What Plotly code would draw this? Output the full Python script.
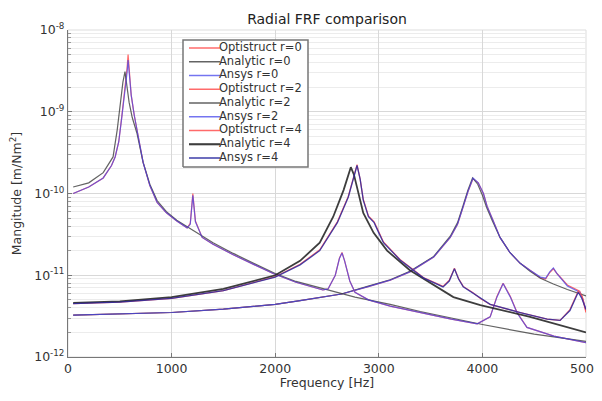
import plotly.graph_objects as go

# ---------------- data ----------------
# r = 2 mode (first resonance ~570 Hz)
f_r2_fe = [50, 200, 340, 420, 455, 490, 520, 540, 555, 570, 580, 590, 610, 640, 665, 695, 725,
           790, 860, 950, 1050, 1150, 1180, 1205, 1230, 1295, 1400, 1595, 1800, 1980, 2200,
           2460, 2510, 2580, 2620, 2645, 2670, 2720, 2770, 2900, 3110, 3400, 3700, 3950, 4075,
           4140, 4200, 4270, 4335, 4430, 4690, 5000]
ansys_r2 = [1.0e-10, 1.2e-10, 1.55e-10, 2.2e-10, 2.8e-10, 4.3e-10, 8.7e-10, 1.4e-9, 1.85e-9, 3.0e-9,
            4.3e-9, 3.0e-9, 1.6e-9, 9.0e-10, 6.0e-10, 3.6e-10, 2.4e-10, 1.25e-10, 7.8e-11, 5.8e-11,
            4.6e-11, 3.8e-11, 4.2e-11, 9.5e-11, 4.5e-11, 2.9e-11, 2.4e-11, 1.78e-11, 1.35e-11,
            1.05e-11, 8.2e-12, 6.6e-12, 6.8e-12, 1.0e-11, 1.6e-11, 1.87e-11, 1.5e-11, 8.5e-12,
            6.2e-12, 5.0e-12, 4.2e-12, 3.5e-12, 2.9e-12, 2.55e-12, 3.1e-12, 5.4e-12, 7.9e-12,
            5.4e-12, 3.45e-12, 2.3e-12, 1.8e-12, 1.5e-12]
opti_r2 = [1.0e-10, 1.2e-10, 1.55e-10, 2.2e-10, 2.8e-10, 4.3e-10, 8.9e-10, 1.5e-9, 2.0e-9, 3.4e-9,
           5.0e-9, 3.2e-9, 1.6e-9, 9.0e-10, 6.0e-10, 3.6e-10, 2.4e-10, 1.25e-10, 7.8e-11, 5.8e-11,
           4.6e-11, 3.8e-11, 4.3e-11, 1.0e-10, 4.6e-11, 2.9e-11, 2.4e-11, 1.78e-11, 1.35e-11,
           1.05e-11, 8.2e-12, 6.6e-12, 6.8e-12, 1.0e-11, 1.62e-11, 1.9e-11, 1.5e-11, 8.5e-12,
           6.2e-12, 5.0e-12, 4.2e-12, 3.5e-12, 2.9e-12, 2.55e-12, 3.1e-12, 5.5e-12, 8.0e-12,
           5.5e-12, 3.5e-12, 2.3e-12, 1.8e-12, 1.5e-12]
f_r2_an = [50, 200, 340, 435, 475, 510, 530, 550, 565, 590, 620, 665, 725, 790, 860, 950, 1050,
           1150, 1300, 1400, 1595, 1800, 2000, 2200, 2460, 2770, 3110, 3400, 3700, 4000, 4500, 5000]
analytic_r2 = [1.2e-10, 1.35e-10, 1.8e-10, 2.8e-10, 6.0e-10, 1.5e-9, 2.3e-9, 3.1e-9, 2.2e-9, 1.3e-9,
               8.5e-10, 5.5e-10, 2.4e-10, 1.3e-10, 8.2e-11, 6.0e-11, 4.7e-11, 3.9e-11, 3.0e-11,
               2.5e-11, 1.85e-11, 1.4e-11, 1.05e-11, 8.4e-12, 6.8e-12, 5.4e-12, 4.4e-12, 3.6e-12,
               3.0e-12, 2.5e-12, 1.9e-12, 1.55e-12]

# r = 0 mode (resonance ~3900 Hz)
f_r0 = [50, 500, 1000, 1500, 2000, 2240, 2640, 2890, 3110, 3300, 3530, 3690, 3760, 3815, 3860,
        3910, 3960, 4010, 4045, 4105, 4170, 4265, 4365, 4460, 4560, 4610, 4650, 4685, 4720,
        4820, 4940, 4970, 5000]
ansys_r0 = [3.25e-12, 3.35e-12, 3.5e-12, 3.85e-12, 4.4e-12, 4.9e-12, 5.9e-12, 7.2e-12, 8.7e-12,
            1.1e-11, 1.67e-11, 2.9e-11, 4.2e-11, 6.9e-11, 1.05e-10, 1.55e-10, 1.35e-10, 1.0e-10,
            7.0e-11, 4.6e-11, 2.9e-11, 1.9e-11, 1.4e-11, 1.15e-11, 9.5e-12, 9.2e-12, 1.1e-11,
            1.23e-11, 1.05e-11, 7.4e-12, 6.2e-12, 5.0e-12, 3.8e-12]
opti_r0 = [3.25e-12, 3.35e-12, 3.5e-12, 3.85e-12, 4.4e-12, 4.9e-12, 5.9e-12, 7.2e-12, 8.7e-12,
           1.1e-11, 1.67e-11, 2.9e-11, 4.2e-11, 6.9e-11, 1.05e-10, 1.52e-10, 1.35e-10, 1.0e-10,
           7.0e-11, 4.6e-11, 2.9e-11, 1.9e-11, 1.4e-11, 1.15e-11, 9.3e-12, 9.0e-12, 1.08e-11,
           1.2e-11, 1.05e-11, 7.6e-12, 6.4e-12, 5.2e-12, 3.6e-12]
f_r0_an = [50, 500, 1000, 1500, 2000, 2240, 2640, 2890, 3110, 3300, 3530, 3690, 3760, 3815, 3860,
           3905, 3955, 4000, 4040, 4100, 4170, 4265, 4365, 4460, 4560, 4685, 4820, 5000]
analytic_r0 = [3.25e-12, 3.35e-12, 3.5e-12, 3.85e-12, 4.4e-12, 4.9e-12, 5.9e-12, 7.3e-12, 8.8e-12,
               1.12e-11, 1.7e-11, 3.0e-11, 4.4e-11, 7.2e-11, 1.1e-10, 1.55e-10, 1.3e-10, 9.5e-11,
               6.8e-11, 4.5e-11, 2.9e-11, 1.9e-11, 1.4e-11, 1.12e-11, 9.2e-12, 7.8e-12, 6.7e-12,
               5.6e-12]

# r = 4 mode (resonance ~2750 Hz)
f_r4_fe = [50, 500, 1000, 1500, 2000, 2240, 2430, 2600, 2705, 2760, 2790, 2820, 2850, 2900, 2955,
           3000, 3045, 3205, 3430, 3620, 3680, 3730, 3770, 3815, 3910, 3980, 4075, 4365, 4625,
           4750, 4845, 4925, 4960, 5000]
ansys_r4 = [4.5e-12, 4.7e-12, 5.2e-12, 6.5e-12, 9.5e-12, 1.34e-11, 2.0e-11, 4.4e-11, 9.0e-11,
            1.6e-10, 2.2e-10, 1.5e-10, 8.3e-11, 5.2e-11, 4.4e-11, 3.3e-11, 2.5e-11, 1.54e-11,
            9.3e-12, 7.2e-12, 8.5e-12, 1.2e-11, 9.0e-12, 7.2e-12, 6.0e-12, 5.2e-12, 4.4e-12,
            3.5e-12, 2.9e-12, 2.8e-12, 3.7e-12, 6.2e-12, 5.2e-12, 3.8e-12]
opti_r4 = [4.5e-12, 4.7e-12, 5.2e-12, 6.5e-12, 9.6e-12, 1.36e-11, 2.05e-11, 4.5e-11, 9.2e-11,
           1.65e-10, 2.25e-10, 1.5e-10, 8.5e-11, 5.3e-11, 4.5e-11, 3.4e-11, 2.55e-11, 1.56e-11,
           9.4e-12, 7.3e-12, 8.7e-12, 1.22e-11, 9.1e-12, 7.3e-12, 6.1e-12, 5.2e-12, 4.4e-12,
           3.5e-12, 2.9e-12, 2.8e-12, 3.8e-12, 6.4e-12, 5.6e-12, 3.5e-12]
f_r4_an = [50, 500, 1000, 1500, 2000, 2240, 2430, 2560, 2660, 2700, 2730, 2760, 2790, 2850, 2950,
           3080, 3300, 3530, 3720, 3980, 4460, 5000]
analytic_r4 = [4.6e-12, 4.8e-12, 5.4e-12, 6.8e-12, 1.0e-11, 1.5e-11, 2.5e-11, 5.2e-11, 1.1e-10,
               1.6e-10, 2.1e-10, 1.7e-10, 1.2e-10, 5.8e-11, 3.3e-11, 2.0e-11, 1.15e-11, 7.6e-12,
               5.4e-12, 4.3e-12, 3.1e-12, 2.0e-12]

x_ticks = [0, 1000, 2000, 3000, 4000, 5000]
y_ticks = [1e-12, 1e-11, 1e-10, 1e-9, 1e-8]
y_ticktext = ["10<sup>-12</sup>", "10<sup>-11</sup>", "10<sup>-10</sup>", "10<sup>-9</sup>",
              "10<sup>-8</sup>"]

# ---------------- styles ----------------
RED = "rgba(255,80,80,0.85)"
GRAY = "rgba(60,60,60,0.8)"
BLUE = "rgba(70,70,235,0.75)"
DARKBLUE = "rgba(40,40,160,0.85)"

series = [
    ("Optistruct r=0", f_r0, opti_r0, RED, 1.2),
    ("Analytic r=0", f_r0_an, analytic_r0, GRAY, 1.2),
    ("Ansys r=0", f_r0, ansys_r0, BLUE, 1.2),
    ("Optistruct r=2", f_r2_fe, opti_r2, RED, 1.2),
    ("Analytic r=2", f_r2_an, analytic_r2, GRAY, 1.2),
    ("Ansys r=2", f_r2_fe, ansys_r2, BLUE, 1.2),
    ("Optistruct r=4", f_r4_fe, opti_r4, RED, 1.2),
    ("Analytic r=4", f_r4_an, analytic_r4, "rgba(40,40,40,0.9)", 1.8),
    ("Ansys r=4", f_r4_fe, ansys_r4, DARKBLUE, 1.3),
]

FONT = "DejaVu Sans"
# the page body adds an 8 px offset, so the figure is a little smaller than the window
W, H = 594, 382
ML, MR, MT, MB = 60, 16, 22, 33
PW, PH = W - ML - MR, H - MT - MB

fig = go.Figure()
for name, xs, ys, col, w in series:
    fig.add_trace(go.Scatter(x=xs, y=ys, mode="lines", name=name, showlegend=False,
                             line=dict(color=col, width=w)))

# ---- compact legend drawn on an overlay axis in plot-fraction units ----
def fx(p):  # window pixel -> plot fraction (x)
    return (p - 8 - ML) / PW

def fy(p):  # window pixel -> plot fraction (y)
    return (H - MB - (p - 8)) / PH

bx0, bx1, by0, by1 = fx(183), fx(308), fy(167), fy(40)
fig.add_trace(go.Scatter(x=[bx0, bx1, bx1, bx0, bx0], y=[by0, by0, by1, by1, by0],
                         mode="lines", fill="toself", fillcolor="white",
                         line=dict(color="#777777", width=1.5), xaxis="x2", yaxis="y2",
                         showlegend=False, hoverinfo="skip"))
leg_y = []
for i, (name, xs, ys, col, w) in enumerate(series):
    cy = fy(48 + 13.75 * i)
    leg_y.append(cy)
    fig.add_trace(go.Scatter(x=[fx(189), fx(220)], y=[cy, cy], mode="lines",
                             line=dict(color=col, width=w + 0.3), xaxis="x2", yaxis="y2",
                             showlegend=False, hoverinfo="skip"))
fig.add_trace(go.Scatter(x=[fx(219)] * len(series), y=leg_y, mode="text",
                         text=[s[0] for s in series], textposition="middle right",
                         textfont=dict(family=FONT, size=11.5, color="#333333"),
                         xaxis="x2", yaxis="y2", showlegend=False, hoverinfo="skip",
                         cliponaxis=False))

fig.update_layout(
    width=W, height=H,
    margin=dict(l=ML, r=MR, t=MT, b=MB),
    paper_bgcolor="white", plot_bgcolor="white",
    font=dict(family=FONT, size=12.5, color="#333333"),
    title=dict(text="Radial FRF comparison", x=(ML + PW / 2) / W, xanchor="center",
               y=1 - 11 / H, yanchor="middle", font=dict(family=FONT, size=14, color="#222222")),
    showlegend=False,
    xaxis2=dict(overlaying="x", range=[0, 1], visible=False, fixedrange=True),
    yaxis2=dict(overlaying="y", range=[0, 1], visible=False, fixedrange=True),
)
fig.layout.xaxis.update(
    range=[0, 5000], tickvals=x_ticks, showgrid=True, gridcolor="#d8d8d8", gridwidth=1,
    showline=True, linecolor="#777777", linewidth=1.2, mirror=False, automargin=False,
    ticks="inside", ticklen=4, tickcolor="#777777", zeroline=False,
    tickfont=dict(family=FONT, size=12.5), ticklabeloverflow="allow",
    title=dict(text="Frequency [Hz]", standoff=5, font=dict(family=FONT, size=12.5)),
)
fig.layout.yaxis.update(
    type="log", range=[-12, -8], tickvals=y_ticks, ticktext=y_ticktext,
    showgrid=True, gridcolor="#d8d8d8", gridwidth=1, automargin=False,
    showline=True, linecolor="#777777", linewidth=1.2, zeroline=False,
    ticks="inside", ticklen=4, tickcolor="#777777",
    tickfont=dict(family=FONT, size=12.5),
    minor=dict(dtick="D1", showgrid=True, gridcolor="#ececec", ticks="inside", ticklen=3,
               tickcolor="#999999"),
    title=dict(text="Mangitude [m/Nm<sup>2</sup>]", standoff=9, font=dict(family=FONT, size=12.5)),
)
# light frame on top and right
fig.add_shape(type="rect", xref="paper", yref="paper", x0=0, y0=0, x1=1, y1=1,
              line=dict(color="#dddddd", width=1), layer="below")

fig.write_html("out.html")
